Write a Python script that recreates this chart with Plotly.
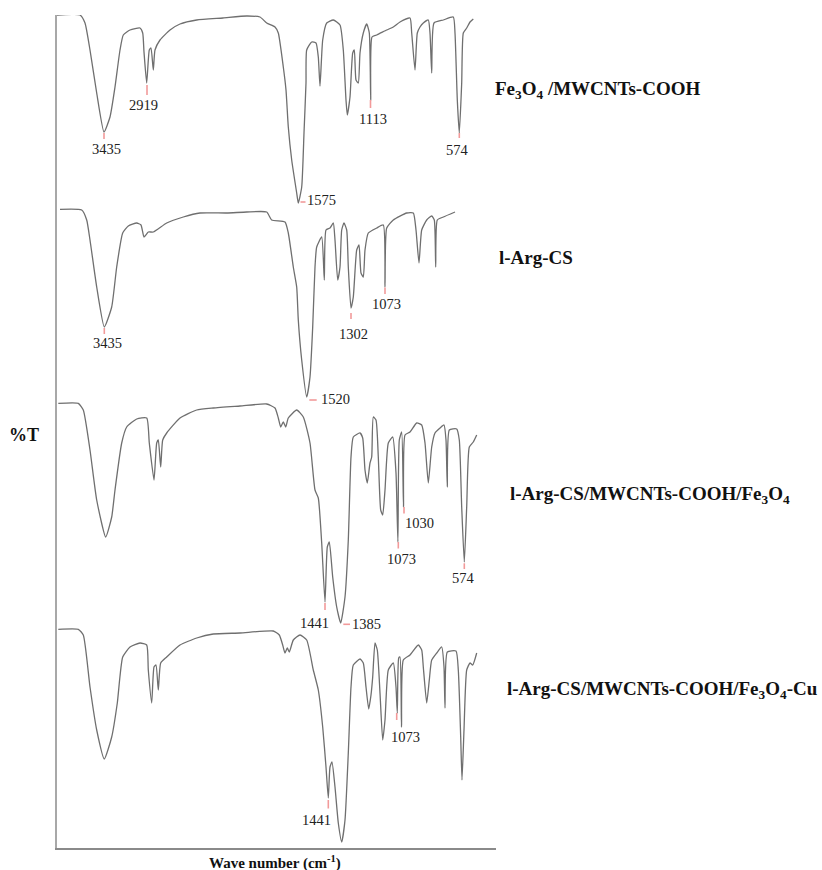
import plotly.graph_objects as go

# ---- Spectra (horizontal position along wave-number axis, transmittance read-off; axis drawn reversed) ----
s1_pos = [56.7, 80, 85, 90, 96.7, 104, 110, 115, 120, 123.3, 130, 140, 142.7, 144, 146.7, 149.3, 151, 153.3, 155,
          160, 170, 180, 196.7, 223, 246.7, 260, 266.7, 275, 278.3, 283.3, 286, 288.3, 291.7, 296.7, 298.3, 301.7,
          304, 306, 306.7, 311.7, 316, 318.3, 320, 322.7, 326.7, 333.3, 340, 343.3, 346, 347.3, 350, 352.7, 354.3,
          356, 358.3, 360, 363.3, 366.7, 369.3, 370.7, 372, 376.7, 386.7, 393.3, 400, 410, 411.7, 415, 417.3, 420,
          423.3, 428.3, 430, 431.7, 434, 443.3, 453.3, 455, 457.3, 459.3, 461.7, 463.3, 466.7, 470, 473.3]
s1_t = [15, 15, 23, 50, 93, 132, 117, 87, 50, 35, 30, 28, 33, 52, 83, 50, 48, 70, 50,
        40, 30, 24, 20, 18, 16, 17, 23, 27, 33, 67, 90, 127, 160, 193, 203, 187,
        133, 83, 50, 42, 43, 57, 86, 40, 23, 20, 25, 50, 100, 115, 97, 53, 50,
        80, 83, 53, 33, 24, 33, 100, 37, 35, 30, 27, 22, 18, 33, 70, 33, 27,
        23, 20, 33, 73, 23, 20, 17, 33, 100, 133, 83, 33, 28, 22, 19]

s2_pos = [60, 81.7, 86.7, 90, 96.7, 104.3, 111.7, 116.7, 122.7, 128.3, 136.7, 141, 144, 148.3, 153.3, 166.7, 183.3,
          200, 226.7, 246.7, 266.7, 271.7, 285, 288.3, 293.3, 296.7, 298.3, 301.7, 306.7, 310, 312.7, 315, 316.7,
          321.7, 324.3, 326, 330, 333.3, 335, 337.7, 340, 341.7, 344, 346.7, 348.3, 351, 353.3, 356.7, 359, 361,
          363.3, 365, 368.3, 376.7, 383.3, 385, 386.7, 393.3, 406.7, 413.3, 416, 419, 421.7, 426.7, 431.7, 434.3,
          435.7, 437.3, 443.3, 455]
s2_t = [209.3, 210, 220, 240, 287, 327, 307, 267, 233, 226, 223, 225, 237, 232, 232, 223, 217,
        213, 213, 212, 212, 220, 222, 233, 267, 287, 320, 360, 397, 377, 327, 267, 247,
        237, 280, 230, 228, 223, 240, 280, 267, 230, 223, 230, 267, 308, 297, 250, 245, 273,
        277, 250, 233, 228, 225, 287, 228, 220, 213, 213, 230, 263, 230, 220, 216, 220,
        267, 220, 217, 212]

s3_pos = [58.3, 78.3, 83.3, 90, 96.7, 105.7, 111.7, 115, 121.7, 126.7, 136.7, 146.7, 149.3, 154, 156.7, 158.3, 160.7,
          162.7, 166.7, 180, 196.7, 213.3, 240, 266.7, 275, 278.3, 280.7, 283.3, 285.7, 288.3, 296.7, 303.3, 310,
          315, 318.3, 321.7, 325, 327.3, 329.3, 332.7, 336.7, 340.7, 345, 348.3, 351, 353.3, 360, 362.7, 365, 367.3,
          370, 371.7, 373.3, 376, 378.3, 380.7, 382.7, 385, 388.3, 392.7, 396, 397.9, 399.3, 401.7, 403.5, 405, 410,
          416.7, 421.7, 425, 428.3, 431.7, 435, 440, 444, 446, 447.3, 449.3, 456.7, 459.3, 461.7, 464.3, 466.7,
          469.3, 473.3, 476.7]
s3_t = [403.3, 403.3, 410, 450, 500, 537, 517, 490, 443, 427, 419, 418, 443, 480, 443, 440, 467,
        440, 433, 418, 410, 408, 406, 404, 408, 418, 427, 422, 427, 418, 410, 417, 443,
        490, 498, 543, 602, 547, 542, 577, 607, 623, 597, 540, 457, 437, 433, 438, 470, 483,
        463, 457, 417, 420, 457, 510, 515, 490, 443, 437, 473, 542, 440, 432, 507, 435, 432,
        423, 425, 443, 483, 447, 433, 428, 425, 440, 487, 430, 429, 440, 507, 562, 507,
        447, 442, 435]

s4_pos = [58.3, 78.3, 83.3, 90, 96.7, 104.3, 111.7, 117.3, 122.7, 130, 140, 146.7, 148.3, 151.7, 154, 156, 158.3,
          160.7, 166.7, 180, 196.7, 213.3, 240, 273.3, 279.3, 282.7, 285, 287.3, 289.3, 293.3, 300, 306.7, 313.3,
          318.3, 322.7, 326, 328.3, 330, 332, 335, 338.3, 341.7, 345, 348.3, 351, 353.3, 360, 363.3, 366, 368.7,
          371, 372.7, 375, 377.3, 380, 382.7, 385, 388.3, 393.3, 396, 397.3, 398.7, 400, 401.5, 403.3, 410, 418.3,
          421.7, 423.3, 426.7, 429.3, 431.7, 436.7, 441.7, 444, 445, 447.3, 456, 458.3, 460.7, 462, 464, 466.7,
          470, 472.7, 476.7]
s4_t = [629.3, 629.3, 635, 687, 730, 759, 737, 703, 657, 647, 643, 645, 670, 703, 667, 665, 690,
        663, 657, 645, 638, 634, 633, 631, 635, 645, 653, 648, 652, 640, 635, 640, 670,
        690, 727, 767, 798, 767, 762, 787, 823, 842, 820, 753, 687, 665, 659, 663, 687, 709,
        695, 677, 643, 650, 693, 740, 720, 670, 663, 687, 713, 658, 657, 727, 660, 655, 645,
        650, 667, 703, 680, 660, 653, 647, 667, 708, 652, 651, 670, 737, 780, 730, 670,
        663, 665, 653]

spectra = [(s1_pos, s1_t), (s2_pos, s2_t), (s3_pos, s3_t), (s4_pos, s4_t)]

series_names = ["Fe<sub>3</sub>O<sub>4</sub> /MWCNTs-COOH",
                "l-Arg-CS",
                "l-Arg-CS/MWCNTs-COOH/Fe<sub>3</sub>O<sub>4</sub>",
                "l-Arg-CS/MWCNTs-COOH/Fe<sub>3</sub>O<sub>4</sub>-Cu"]
series_label_pos = [(492.7, 90), (497.3, 257), (508, 495), (505, 690)]

# ---- Peak labels: text, marker segment (x0, y0, x1, y1), label centre (x, y) ----
peak_text = ["3435", "2919", "1575", "1113", "574",
             "3435", "1520", "1302", "1073",
             "1441", "1385", "1073", "1030", "574",
             "1441", "1073"]
peak_mark = [(104, 133, 104, 139), (147, 85, 147, 95), (300.5, 202, 305.5, 202), (370.5, 100, 370.5, 108),
             (459.3, 133, 459.3, 138),
             (104.3, 328, 104.3, 334), (309.3, 400, 316.7, 400), (351, 313, 351, 319), (385, 287.5, 385, 294),
             (325, 603, 325, 610), (343.3, 624.3, 350, 624.3), (398.3, 542, 398.3, 548.5), (404, 507, 404, 513.5),
             (464.3, 563.3, 464.3, 569),
             (328.3, 800, 328.3, 808.5), (396.7, 713, 396.7, 720)]
peak_label = [(106.5, 149), (143, 104.5), (321.5, 200), (373, 119), (457.3, 150),
              (107.8, 343.3), (335.7, 399.3), (353, 334), (386.7, 304),
              (314.3, 623.3), (366, 624.3), (401, 559), (419, 523.3), (463.7, 578.3),
              (316.7, 820), (405.7, 736.7)]

X_RANGE = [57, 496]
Y_RANGE = [848, 15]


def px(x):
    return (x - X_RANGE[0]) / (X_RANGE[1] - X_RANGE[0])


def py(y):
    return (y - Y_RANGE[0]) / (Y_RANGE[1] - Y_RANGE[0])


fig = go.Figure()

for pos, t in spectra:
    fig.add_trace(go.Scatter(x=pos, y=t, mode="lines",
                             line=dict(color="#6f6f6f", width=1.3, shape="spline", smoothing=0.5),
                             hoverinfo="skip", showlegend=False))

mx, my = [], []
for x0, y0, x1, y1 in peak_mark:
    mx += [x0, x1, None]
    my += [y0, y1, None]
fig.add_trace(go.Scatter(x=mx, y=my, mode="lines", line=dict(color="#f29a9a", width=1.6),
                         hoverinfo="skip", showlegend=False))

serif = "Liberation Serif, Times New Roman, serif"
ann = []
for txt, (x, y) in zip(peak_text, peak_label):
    ann.append(dict(x=px(x), y=py(y), xref="paper", yref="paper", text=txt, showarrow=False,
                    font=dict(family=serif, size=14.5, color="#222222"),
                    xanchor="center", yanchor="middle"))
for txt, (x, y) in zip(series_names, series_label_pos):
    ann.append(dict(x=px(x), y=py(y), xref="paper", yref="paper", text="<b>" + txt + "</b>", showarrow=False,
                    font=dict(family=serif, size=19, color="#111111"),
                    xanchor="left", yanchor="middle"))
ann.append(dict(x=px(24), y=py(435), xref="paper", yref="paper", text="<b>%T</b>", showarrow=False,
                font=dict(family=serif, size=18, color="#111111"), xanchor="center", yanchor="middle"))
ann.append(dict(x=px(275), y=py(862.5), xref="paper", yref="paper",
                text="<b>Wave number (cm<sup>-1</sup>)</b>", showarrow=False,
                font=dict(family=serif, size=15, color="#111111"), xanchor="center", yanchor="middle"))

fig.update_layout(
    width=822, height=870,
    margin=dict(l=57, r=822 - 496, t=15, b=22),
    paper_bgcolor="white", plot_bgcolor="white",
    annotations=ann,
    xaxis=dict(range=X_RANGE, showgrid=False, zeroline=False, showticklabels=False, ticks="",
               showline=True, linecolor="#8a8a8a", linewidth=1.5, fixedrange=True),
    yaxis=dict(range=Y_RANGE, showgrid=False, zeroline=False, showticklabels=False, ticks="",
               showline=True, linecolor="#a8a8a8", linewidth=1.5, fixedrange=True),
)

fig.write_html("out.html")
